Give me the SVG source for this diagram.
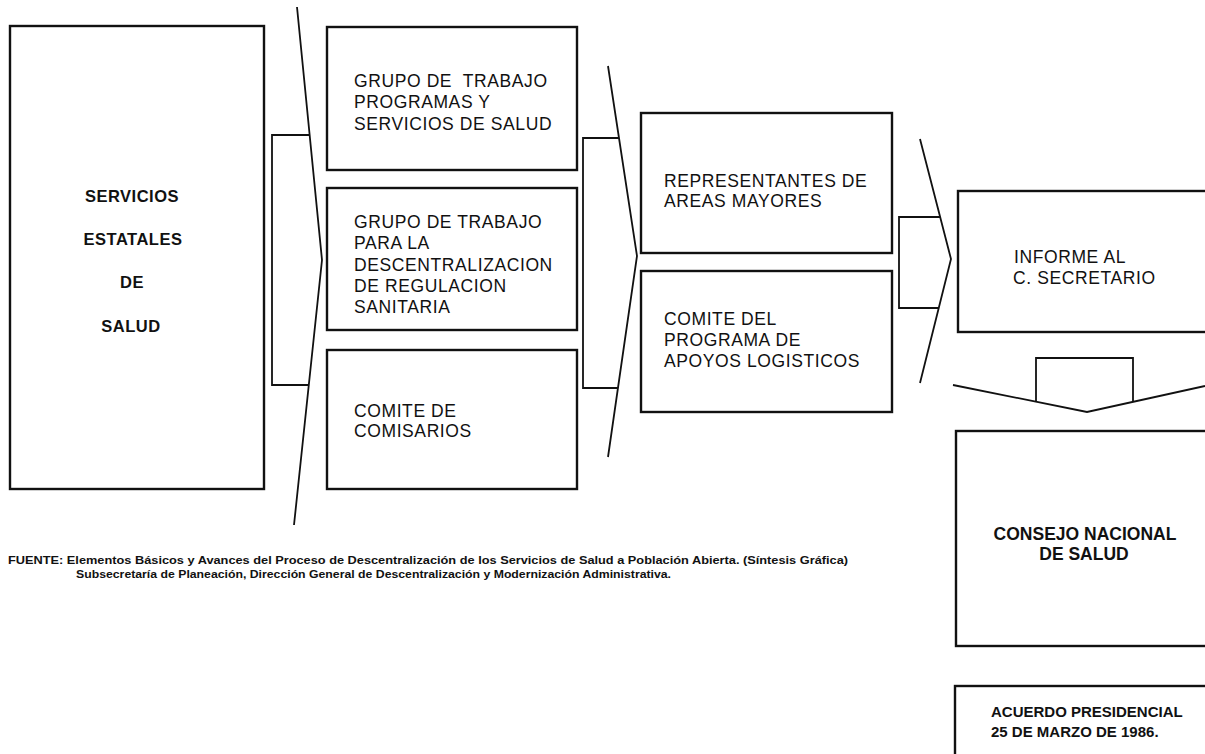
<svg xmlns="http://www.w3.org/2000/svg" width="1205" height="754" viewBox="0 0 1205 754">
<style>
.box{fill:none;stroke:#111;stroke-width:2.4}
.con{fill:none;stroke:#111;stroke-width:1.8;stroke-linejoin:miter}
.t{font-family:"Liberation Sans",Arial,sans-serif;font-size:17.5px;fill:#111;letter-spacing:0.6px;white-space:pre}
.b{font-family:"Liberation Sans",Arial,sans-serif;font-weight:bold;fill:#111}
.f{font-family:"Liberation Sans",Arial,sans-serif;font-weight:bold;font-size:11.5px;fill:#111}
</style>
<rect width="1205" height="754" fill="#fff"/>
<g id="connectors">
<polyline class="con" points="297,7 322,260 294,525"/>
<polyline class="con" points="310,135 272,135 272,385 309,385"/>
<polyline class="con" points="608,66 637,256 608,457"/>
<polyline class="con" points="619,138 583,138 583,388 618,388"/>
<polyline class="con" points="920,139 951,259 920,383"/>
<polyline class="con" points="940,217 899,217 899,308 939,308"/>
<polyline class="con" points="953,385 1087,412 1205,386"/>
<polyline class="con" points="1036,402 1036,358 1133,358 1133,402"/>
</g>
<g id="servicios">
<rect class="box" x="10" y="26" width="254" height="463"/>
<g class="b" font-size="16.5" text-anchor="middle" letter-spacing="0.5">
<text x="132" y="202">SERVICIOS</text>
<text x="133" y="245">ESTATALES</text>
<text x="132" y="288">DE</text>
<text x="131" y="332">SALUD</text>
</g>
</g>
<g id="grupo-programas">
<rect class="box" x="327" y="27" width="250" height="143"/>
<text class="t" x="354" y="87" xml:space="preserve">GRUPO DE  TRABAJO</text>
<text class="t" x="354" y="108">PROGRAMAS Y</text>
<text class="t" x="354" y="130">SERVICIOS DE SALUD</text>
</g>
<g id="grupo-regulacion">
<rect class="box" x="327" y="188" width="250" height="142"/>
<text class="t" x="354" y="228">GRUPO DE TRABAJO</text>
<text class="t" x="354" y="249">PARA LA</text>
<text class="t" x="354" y="271">DESCENTRALIZACION</text>
<text class="t" x="354" y="292">DE REGULACION</text>
<text class="t" x="354" y="313">SANITARIA</text>
</g>
<g id="comite-comisarios">
<rect class="box" x="327" y="350" width="250" height="139"/>
<text class="t" x="354" y="417">COMITE DE</text>
<text class="t" x="354" y="437">COMISARIOS</text>
</g>
<g id="representantes">
<rect class="box" x="641" y="113" width="251" height="140"/>
<text class="t" x="664" y="187">REPRESENTANTES DE</text>
<text class="t" x="664" y="207">AREAS MAYORES</text>
</g>
<g id="comite-apoyos">
<rect class="box" x="641" y="271" width="251" height="141"/>
<text class="t" x="664" y="325">COMITE DEL</text>
<text class="t" x="664" y="346">PROGRAMA DE</text>
<text class="t" x="664" y="367">APOYOS LOGISTICOS</text>
</g>
<g id="informe">
<rect class="box" x="958" y="191" width="262" height="141"/>
<text class="t" x="1014" y="263" letter-spacing="0.2">INFORME AL</text>
<text class="t" x="1013" y="284" letter-spacing="0.2">C. SECRETARIO</text>
</g>
<g id="consejo">
<rect class="box" x="956" y="431" width="264" height="215"/>
<g class="b" font-size="17.5" text-anchor="middle">
<text x="1085" y="540">CONSEJO NACIONAL</text>
<text x="1084" y="560">DE SALUD</text>
</g>
</g>
<g id="acuerdo">
<rect class="box" x="955" y="686" width="265" height="80"/>
<text class="b" font-size="15" x="991" y="717">ACUERDO PRESIDENCIAL</text>
<text class="b" font-size="15" x="991" y="737">25 DE MARZO DE 1986.</text>
</g>
<g id="fuente">
<text class="f" x="8" y="564" textLength="840" lengthAdjust="spacingAndGlyphs">FUENTE: Elementos Básicos y Avances del Proceso de Descentralización de los Servicios de Salud a Población Abierta. (Síntesis Gráfica)</text>
<text class="f" x="76" y="578" textLength="595" lengthAdjust="spacingAndGlyphs">Subsecretaría de Planeación, Dirección General de Descentralización y Modernización Administrativa.</text>
</g>
</svg>
